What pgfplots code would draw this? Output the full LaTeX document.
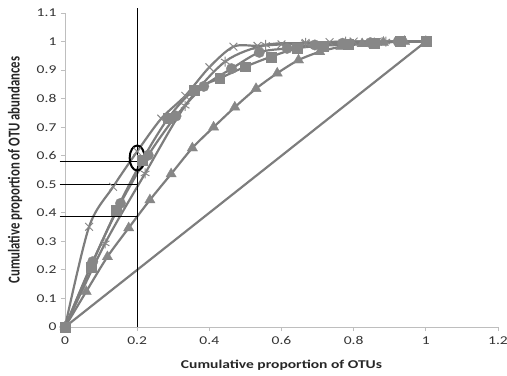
\documentclass[border=0pt]{standalone}
\usepackage{pgfplots}
\pgfplotsset{compat=1.18}
\usepackage{fontspec}
\setmainfont{Carlito}
\definecolor{ln}{RGB}{125,125,125}
\definecolor{mk}{RGB}{135,135,135}
\definecolor{ax}{RGB}{190,190,190}
\begin{document}
\begin{tikzpicture}
\begin{axis}[
  scale only axis, width=433bp, height=314bp,
  xmin=0, xmax=1.2, ymin=0, ymax=1.1,
  axis x line*=bottom, axis y line*=left,
  axis line style={ax, line width=0.9pt, -},
  xtick={0,0.2,...,1.2}, ytick={0,0.1,...,1.1},
  yticklabels={0,0.1,0.2,0.3,0.4,0.5,0.6,0.7,0.8,0.9,1,1.1},
  xticklabels={0,0.2,0.4,0.6,0.8,1,1.2},
  tick align=outside, major tick length=4bp,
  tick style={ax, line width=0.9pt},
  tick label style={font=\fontsize{12}{14}\selectfont, text=black!80, xscale=1.3},
  xticklabel style={yshift=-2bp},
  /pgf/number format/assume math mode=true,
  xlabel={\textbf{Cumulative proportion of OTUs}},
  ylabel={\textbf{Cumulative proportion of OTU abundances}},
  label style={font=\fontsize{12}{14}\selectfont, text=black!85},
  xlabel style={at={(axis description cs:0.5,-0.121)}, anchor=center, xscale=1.3},
  ylabel style={at={(axis description cs:-0.115,0.5)}, anchor=center, font=\fontsize{12.8}{14}\selectfont, yscale=1.3},
  clip=false,
  every axis plot/.append style={line width=2.2pt, color=ln},
]
\coordinate (SW) at (rel axis cs:0,0);
\coordinate (NE) at (rel axis cs:1,1);
% diagonal
\addplot[ln] coordinates {(0,0) (1,1)};
% triangles
\addplot[smooth, mark=triangle*, mark size=6pt, mark options={fill=mk, draw=mk, line width=0.3pt}] coordinates {
(0,0) (0.0588,0.124) (0.1176,0.246) (0.1765,0.347) (0.2353,0.445) (0.2941,0.536)
(0.3529,0.627) (0.4118,0.700) (0.4706,0.770) (0.5294,0.835) (0.5882,0.889)
(0.6471,0.935) (0.7059,0.964) (0.7647,0.982) (0.8235,0.992) (0.8824,0.997)
(0.9412,1.0) (1.0,1.0)};
% star
\addplot[smooth, mark=asterisk, mark size=5pt, mark options={draw=mk, line width=1pt}] coordinates {
(0,0) (0.111,0.293) (0.222,0.538) (0.333,0.775) (0.444,0.93) (0.556,0.988)
(0.667,0.995) (0.778,1.0) (0.889,1.0) (1,1)};
% squares
\addplot[smooth, mark=square*, mark size=5pt, mark options={fill=mk, draw=mk, line width=0.3pt}] coordinates {
(0,0) (0.0714,0.211) (0.1429,0.410) (0.2143,0.585) (0.2857,0.731) (0.3571,0.830)
(0.4286,0.871) (0.5,0.912) (0.5714,0.947) (0.6429,0.976) (0.7143,0.985)
(0.7857,0.990) (0.8571,0.995) (0.9286,1.0) (1.0,1.0)};
% circles
\addplot[smooth, mark=*, mark size=5.3pt, mark options={fill=mk, draw=mk, line width=0.3pt}] coordinates {
(0,0) (0.0769,0.229) (0.1538,0.433) (0.2308,0.602) (0.3077,0.739) (0.3846,0.843)
(0.4615,0.905) (0.5385,0.962) (0.6154,0.976) (0.6923,0.988) (0.7692,0.994)
(0.8462,0.996) (0.9231,1.0) (1.0,1.0)};
% x markers (steep)
\addplot[smooth, mark=x, mark size=5.5pt, mark options={draw=mk, line width=1pt}] coordinates {
(0,0) (0.0667,0.351) (0.1333,0.491) (0.2,0.615) (0.2667,0.730) (0.3333,0.810)
(0.4,0.910) (0.4667,0.982) (0.5333,0.985) (0.6,0.990) (0.6667,0.995)
(0.7333,0.998) (0.8,1.0) (0.8667,1.0) (0.9333,1.0) (1.0,1.0)};
% annotations
\draw[black, line width=0.9pt] (axis cs:0.2,0) -- (axis cs:0.2,1.117);
\draw[black, line width=0.9pt] (axis cs:-0.015,0.579) -- (axis cs:0.2,0.579);
\draw[black, line width=0.9pt] (axis cs:-0.015,0.50) -- (axis cs:0.2,0.50);
\draw[black, line width=0.9pt] (axis cs:-0.015,0.386) -- (axis cs:0.2,0.386);
\draw[black, line width=2pt] (axis cs:0.2,0.592) ellipse [x radius=7.5bp, y radius=12.5bp];
\end{axis}
\pgfresetboundingbox
\path ([shift={(-65bp,-49bp)}]SW) rectangle ([shift={(9bp,13bp)}]NE);
\end{tikzpicture}
\end{document}
